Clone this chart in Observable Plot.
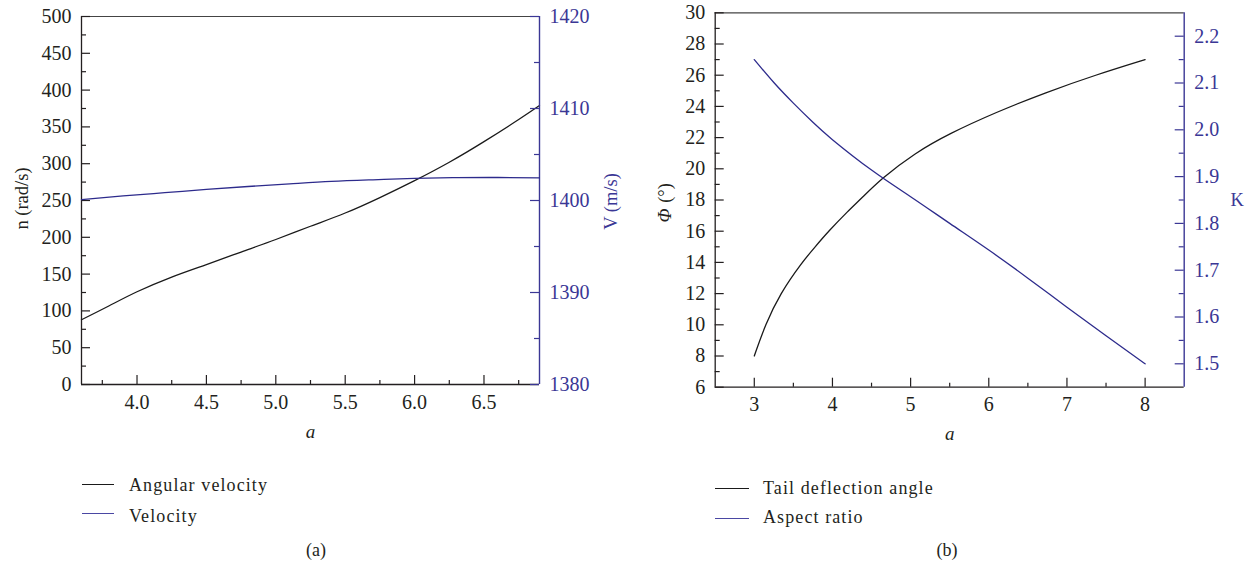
<!DOCTYPE html>
<html><head><meta charset="utf-8">
<script src="https://cdn.jsdelivr.net/npm/d3@7"></script>
<script src="https://cdn.jsdelivr.net/npm/@observablehq/plot@0.6"></script>
<style>
body{margin:0;background:#fff;width:1253px;height:569px;position:relative;overflow:hidden;font-family:"Liberation Serif",serif;color:#231f20}
.layer{position:absolute;top:0}
.layer svg{display:block;max-width:none}
.leg{position:absolute;font-size:18px;line-height:18px;letter-spacing:1.1px;white-space:nowrap}
.cap{position:absolute;font-size:18px;line-height:18px;white-space:nowrap;transform:translateX(-50%)}
.sw{position:absolute;height:1px}
</style></head><body>
<div id="root"></div>
<script>
// ---------- data: panel (a) ----------
const aAngular = [3.6, 3.8, 4.0, 4.25, 4.5, 4.75, 5.0, 5.25, 5.5, 5.75, 6.0, 6.25, 6.5, 6.75, 6.9];
const angularVelocity = [88, 107, 126, 146, 163, 180, 197, 215, 233, 254, 277, 302, 330, 360, 379];
const aVelocity = [3.6, 3.9, 4.2, 4.5, 4.8, 5.1, 5.4, 5.7, 6.0, 6.3, 6.6, 6.9];
const velocity = [1400.1, 1400.5, 1400.85, 1401.2, 1401.52, 1401.8, 1402.07, 1402.25, 1402.4, 1402.48, 1402.5, 1402.45];
const xDomainA = [3.6, 6.9];
const xTicksA = [4.0, 4.5, 5.0, 5.5, 6.0, 6.5];
const xMinorA = [3.75, 4.25, 4.75, 5.25, 5.75, 6.25, 6.75];
const nDomain = [0, 500];
const nTicks = [0, 50, 100, 150, 200, 250, 300, 350, 400, 450, 500];
const nMinor = [25, 75, 125, 175, 225, 275, 325, 375, 425, 475];
const vDomain = [1380, 1420];
const vTicks = [1380, 1390, 1400, 1410, 1420];
const vMinor = [1385, 1395, 1405, 1415];

// ---------- data: panel (b) ----------
const aTail = [3.0, 3.14, 3.33, 3.61, 3.77, 3.95, 4.2, 4.36, 4.62, 5.05, 5.5, 6.09, 6.73, 7.37, 8.0];
const tailDeflection = [8.0, 10.0, 12.0, 14.0, 14.95, 16.0, 17.3, 18.05, 19.35, 21.0, 22.27, 23.62, 24.9, 26.02, 27.0];
const aAspect = [3.0, 3.25, 3.5, 3.75, 4.0, 4.5, 5.0, 5.5, 6.0, 6.5, 7.0, 7.5, 8.0];
const aspectRatio = [2.150, 2.101, 2.057, 2.016, 1.979, 1.914, 1.857, 1.800, 1.743, 1.683, 1.621, 1.560, 1.500];
const xDomainB = [2.5, 8.5];
const xTicksB = [3, 4, 5, 6, 7, 8];
const xMinorB = [3.5, 4.5, 5.5, 6.5, 7.5];
const phiDomain = [6, 30];
const phiTicks = [6, 8, 10, 12, 14, 16, 18, 20, 22, 24, 26, 28, 30];
const phiMinor = [7, 9, 11, 13, 15, 17, 19, 21, 23, 25, 27, 29];
const kDomain = [1.45, 2.25];
const kTicks = [1.5, 1.6, 1.7, 1.8, 1.9, 2.0, 2.1, 2.2];
const kMinor = [1.55, 1.65, 1.75, 1.85, 1.95, 2.05, 2.15];

// ---------- styling ----------
const FONT = "Liberation Serif, serif";
const INK = "#231f20";
const BLUE = "#2d2b8c";
const BLUE_AX = "#3b3795";
const BLUE_LEG = "#4a47a3";

function addLayer(svg, left) {
  const d = document.createElement("div");
  d.className = "layer";
  d.style.left = left + "px";
  d.appendChild(svg);
  document.getElementById("root").appendChild(d);
}

function panel(cfg) {
  const {left, W, H, mL, mR, mT, mB, xDomain, xTicks, xMinor, xFmt,
         yDomain, yTicks, yMinor, yFmt, rDomain, rTicks, rMinor, rFmt,
         xs1, ys1, curve1, xs2, ys2, leftLabelMarks, rightLabelMarks} = cfg;
  const fw = W - mL - mR, fh = H - mT - mB;
  const common = {width: W, height: H, marginLeft: mL, marginRight: mR, marginTop: mT, marginBottom: mB};
  const A = Plot.plot({
    ...common,
    x: {domain: xDomain},
    y: {domain: yDomain},
    style: {fontFamily: FONT, fontSize: "20px", color: INK, background: "transparent", overflow: "visible"},
    marks: [
      Plot.ruleY([yDomain[1]], {stroke: "#444", strokeWidth: 1.2}),
      Plot.ruleX([xDomain[0]], {stroke: INK, strokeWidth: 1.3}),
      Plot.ruleY([yDomain[0]], {stroke: INK, strokeWidth: 1.3}),
      Plot.tickY(yTicks, {y: d => d, insetRight: fw - 9, stroke: INK, strokeWidth: 1.2}),
      Plot.tickY(yMinor, {y: d => d, insetRight: fw - 5, stroke: INK, strokeWidth: 1.2}),
      Plot.tickX(xTicks, {x: d => d, insetTop: fh - 9, stroke: INK, strokeWidth: 1.2}),
      Plot.tickX(xMinor, {x: d => d, insetTop: fh - 4, stroke: INK, strokeWidth: 1.2}),
      Plot.axisY({ticks: yTicks, tickSize: 0, tickPadding: 10, tickFormat: yFmt, label: null}),
      Plot.axisX({ticks: xTicks, tickSize: 0, tickPadding: 10, tickFormat: xFmt, label: null}),
      Plot.line(xs1, {x: xs1, y: ys1, stroke: "#1a1a1a", strokeWidth: 1.3, curve: curve1}),
      Plot.text(["a"], {text: d => d, frameAnchor: "bottom", dy: 53, textAnchor: "middle", fontStyle: "italic", fontSize: 19}),
      ...leftLabelMarks
    ]
  });
  const B = Plot.plot({
    ...common,
    x: {domain: xDomain, axis: null},
    y: {domain: rDomain, axis: null},
    style: {fontFamily: FONT, fontSize: "20px", color: BLUE_AX, background: "transparent", overflow: "visible"},
    marks: [
      Plot.ruleX([xDomain[1]], {stroke: BLUE_AX, strokeWidth: 1.4}),
      Plot.tickY(rTicks, {y: d => d, insetLeft: fw - 9, stroke: BLUE_AX, strokeWidth: 1.2}),
      Plot.tickY(rMinor, {y: d => d, insetLeft: fw - 5, stroke: BLUE_AX, strokeWidth: 1.2}),
      Plot.axisY({anchor: "right", ticks: rTicks, tickSize: 0, tickPadding: 10, tickFormat: rFmt, label: null, fill: BLUE_AX}),
      Plot.line(xs2, {x: xs2, y: ys2, stroke: BLUE, strokeWidth: 1.3, curve: "natural"}),
      ...rightLabelMarks
    ]
  });
  addLayer(A, left);
  addLayer(B, left);
}

// panel (a)
panel({
  left: 0, W: 640, H: 450, mL: 81, mR: 101, mT: 16, mB: 66,
  xDomain: xDomainA, xTicks: xTicksA, xMinor: xMinorA, xFmt: d3.format(".1f"),
  yDomain: nDomain, yTicks: nTicks, yMinor: nMinor, yFmt: d3.format("d"),
  rDomain: vDomain, rTicks: vTicks, rMinor: vMinor, rFmt: d3.format("d"),
  xs1: aAngular, ys1: angularVelocity, curve1: "natural", xs2: aVelocity, ys2: velocity,
  leftLabelMarks: [
    Plot.text(["n (rad/s)"], {text: d => d, frameAnchor: "left", textAnchor: "middle", dx: -59, dy: -2, rotate: -90, fontSize: 18.5})
  ],
  rightLabelMarks: [
    Plot.text(["V (m/s)"], {text: d => d, frameAnchor: "right", textAnchor: "middle", dx: 72, dy: 1, rotate: -90, fontSize: 18.5, fill: BLUE_AX})
  ]
});

// panel (b)
panel({
  left: 630, W: 623, H: 450, mL: 84.7, mR: 69.3, mT: 12.3, mB: 63.3,
  xDomain: xDomainB, xTicks: xTicksB, xMinor: xMinorB, xFmt: d3.format("d"),
  yDomain: phiDomain, yTicks: phiTicks, yMinor: phiMinor, yFmt: d3.format("d"),
  rDomain: kDomain, rTicks: kTicks, rMinor: kMinor, rFmt: d3.format(".1f"),
  xs1: aTail, ys1: tailDeflection, curve1: "basis", xs2: aAspect, ys2: aspectRatio,
  leftLabelMarks: [
    Plot.text(["Φ"], {text: d => d, frameAnchor: "left", textAnchor: "middle", dx: -50, dy: 15.5, rotate: -90, fontSize: 18.5, fontStyle: "italic"}),
    Plot.text(["(°)"], {text: d => d, frameAnchor: "left", textAnchor: "middle", dx: -50, dy: -7, rotate: -90, fontSize: 18.5})
  ],
  rightLabelMarks: [
    Plot.text(["K"], {text: d => d, frameAnchor: "right", textAnchor: "middle", dx: 53, dy: 0, fontSize: 18.5, fill: BLUE_AX})
  ]
});

// legends and captions
const legendA = [["Angular velocity", "#1a1a1a"], ["Velocity", BLUE_LEG]];
const legendB = [["Tail deflection angle", "#1a1a1a"], ["Aspect ratio", BLUE_LEG]];
const root = document.getElementById("root");
function legend(items, lineX, lineW, textX, lineYs, textTops) {
  items.forEach(([label, color], i) => {
    const s = document.createElement("div");
    s.className = "sw";
    s.style.left = lineX + "px";
    s.style.top = lineYs[i] + "px";
    s.style.width = lineW + "px";
    s.style.background = color;
    root.appendChild(s);
    const t = document.createElement("div");
    t.className = "leg";
    t.style.left = textX + "px";
    t.style.top = textTops[i] + "px";
    t.textContent = label;
    root.appendChild(t);
  });
}
legend(legendA, 82, 32, 129, [484, 513], [475.7, 507]);
legend(legendB, 715, 34, 763, [488, 518], [479.3, 508.3]);
[["(a)", 316], ["(b)", 947]].forEach(([c, x]) => {
  const t = document.createElement("div");
  t.className = "cap";
  t.style.left = x + "px";
  t.style.top = "541px";
  t.textContent = c;
  root.appendChild(t);
});
</script>
</body></html>
